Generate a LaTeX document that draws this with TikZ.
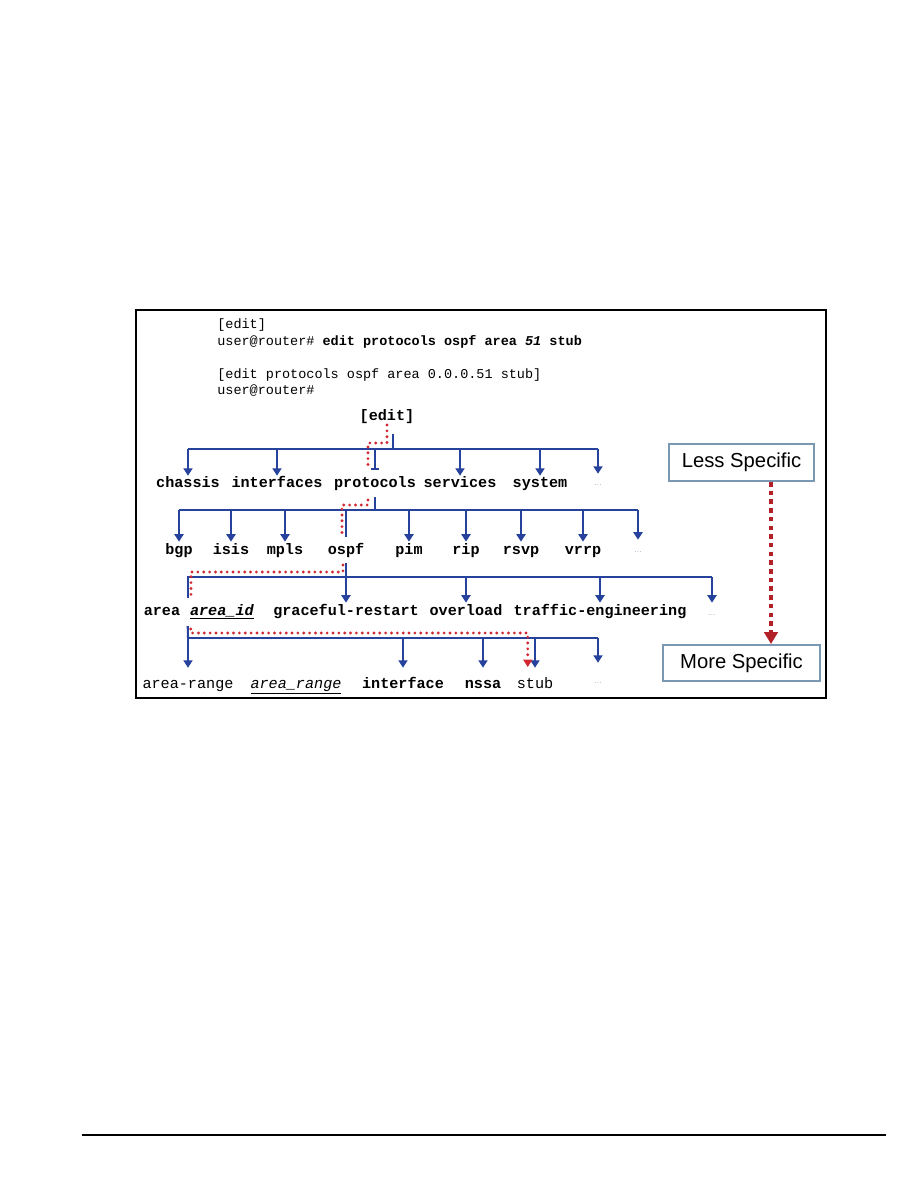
\documentclass[tikz,border=0pt]{standalone}
\usepackage{fontspec}
\setmainfont{Liberation Sans}
\setmonofont{Liberation Mono}
\usetikzlibrary{arrows.meta}
\definecolor{treeblue}{RGB}{38,66,156}
\definecolor{trailred}{RGB}{210,40,50}
\definecolor{darkred}{RGB}{178,32,40}
\definecolor{hintgray}{RGB}{122,152,178}
\definecolor{dotgray}{RGB}{150,172,205}
\tikzset{
	bus/.style={treeblue,line width=1.4pt},
	down/.style={bus,-{Triangle[width=6pt,length=5pt]}},
	trail/.style={trailred,line width=2.1pt,line cap=round,dash pattern=on 0pt off 3.9pt},
	bigtrail/.style={darkred,line width=3.2pt,dash pattern=on 3pt off 2.8pt,-{Triangle[width=9pt,length=8pt]}},
	cli/.style={anchor=base west,inner sep=0pt,font=\fontsize{9}{11}\selectfont\ttfamily},
	kw/.style={anchor=base,inner sep=0pt,font=\fontsize{10.1}{12}\selectfont\ttfamily\bfseries},
	plainkw/.style={font=\fontsize{10.1}{12}\selectfont\ttfamily},
	lone/.style={kw,text height=7.3pt},
	ltwo/.style={kw,text height=8pt},
	lfour/.style={kw,text height=13.3pt},
	etc/.style={text=dotgray,font=\fontsize{6}{7}\selectfont\sffamily},
	hint/.style={draw=hintgray,line width=1.3pt,inner sep=0pt,font=\fontsize{13.5}{16}\selectfont}
}
\begin{document}
\begin{tikzpicture}[x=0.66667pt,y=-0.66667pt]
	\fill[white] (0,0) rectangle (918,1188);
	\useasboundingbox (0,0) rectangle (918,1188);
	\draw[line width=1.3pt] (136,310) rectangle (826,698);
	\draw[line width=0.9pt] (82,1135) -- (886,1135);
	% command lines
	\node[cli] (cmd1) at (217,328) {[edit]};
	\node[cli] (cmd2) at (217,345) {user@router\# \textbf{edit protocols ospf area \textit{51} stub}};
	\node[cli] (cmd3) at (217,378) {[edit protocols ospf area 0.0.0.51 stub]};
	\node[cli] (cmd4) at (217,394) {user@router\#};
	% hierarchy
	\node[kw] (root) at (387,420) {[edit]};
	\node[lone] (chassis) at (188,487) {chassis};
	\node[lone] (interfaces) at (277,487) {interfaces};
	\node[lone] (protocols) at (375,487) {protocols};
	\node[lone] (services) at (460,487) {services};
	\node[lone] (system) at (540,487) {system};
	\node[lone,etc] (etc1) at (598,485) {...};
	\node[ltwo] (bgp) at (179,554) {bgp};
	\node[ltwo] (isis) at (231,554) {isis};
	\node[ltwo] (mpls) at (285,554) {mpls};
	\node[ltwo] (ospf) at (346,554) {ospf};
	\node[ltwo] (pim) at (409,554) {pim};
	\node[ltwo] (rip) at (466,554) {rip};
	\node[ltwo] (rsvp) at (521,554) {rsvp};
	\node[ltwo] (vrrp) at (583,554) {vrrp};
	\node[ltwo,etc] (etc2) at (638,552) {...};
	\node[ltwo] (area) at (162,615) {area};
	\node[ltwo] (areaid) at (222,615) {\underline{\textit{area\_id}}};
	\node[ltwo] (graceful) at (346,615) {graceful-restart};
	\node[ltwo] (overload) at (466,615) {overload};
	\node[ltwo] (traffic) at (600,615) {traffic-engineering};
	\node[ltwo,etc] (etc3) at (712,615) {...};
	\node[lfour,plainkw] (arearange) at (188,688) {area-range};
	\node[lfour,plainkw] (arange) at (296,688) {\underline{\textit{area\_range}}};
	\node[lfour] (interface) at (403,688) {interface};
	\node[lfour] (nssa) at (483,688) {nssa};
	\node[lfour,plainkw] (stub) at (535,688) {stub};
	\node[lfour,etc] (etc4) at (598,683) {...};
	% buses
	\coordinate (bus1) at (393,449);
	\coordinate (bus2) at (375,510);
	\coordinate (bus3) at (346,577);
	\coordinate (bus4) at (188,638);
	\draw[bus] (root.base) ++(6,14) -- (bus1);
	\draw[bus] (chassis |- bus1) -- (etc1 |- bus1);
	\foreach \n in {chassis,interfaces,services,system,etc1} \draw[down] (\n |- bus1) -- (\n.north);
	\draw[bus,-{Bar[width=5pt]},shorten >=4pt] (protocols |- bus1) -- (protocols.north);
	\draw[bus] (protocols.base) ++(0,10) -- (bus2);
	\draw[bus] (bgp |- bus2) -- (etc2 |- bus2);
	\foreach \n in {bgp,isis,mpls,pim,rip,rsvp,vrrp,etc2} \draw[down] (\n |- bus2) -- (\n.north);
	\draw[bus,shorten >=3.3pt] (ospf |- bus2) -- (ospf.north);
	\draw[bus] (ospf.base) ++(0,9) -- (bus3);
	\draw[bus] (areaid.base west) ++(-2,-17) |- (etc3 |- bus3);
	\foreach \n in {graceful,overload,traffic,etc3} \draw[down] (\n |- bus3) -- (\n.north);
	\draw[bus] (areaid.base west) ++(-2,11) -- (bus4);
	\draw[bus] (bus4) -- (etc4 |- bus4);
	\foreach \n in {arearange,interface,nssa,stub,etc4} \draw[down] (\n |- bus4) -- (\n.north);
	% path taken
	\draw[trail] (root.base) ++(0,5) -- ++(0,18) -- ++(-19,0) -- ++(0,27);
	\draw[trail] (protocols.base) ++(-7,13) -- ++(0,5) -- ++(-26,0) -- ++(0,31);
	\draw[trail] (ospf.base) ++(-3,11) -- ++(0,7) -- ++(-152,0) -- ++(0,25);
	\draw[trail,-{Triangle[width=6pt,length=5pt]}] (areaid.base west) ++(1,14) -- ++(0,4) -- ++(337,0) -- ++(0,34);
	% specificity
	\node[hint,minimum width=96.7pt,minimum height=24.7pt] (less) at (741.5,462.5) {Less Specific};
	\node[hint,minimum width=104.7pt,minimum height=24pt] (more) at (741.5,663) {More Specific};
	\coordinate (tipx) at (771,0);
	\draw[bigtrail] (less.south -| tipx) -- (more.north -| tipx);
\end{tikzpicture}
\end{document}
